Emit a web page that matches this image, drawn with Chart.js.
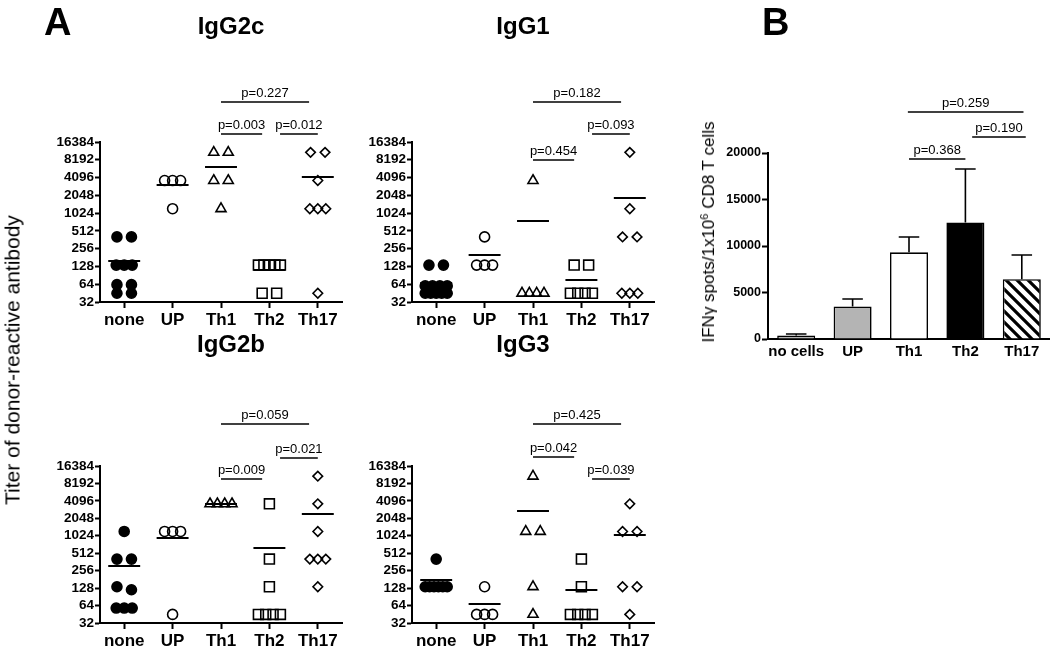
<!DOCTYPE html>
<html><head><meta charset="utf-8">
<script src="https://cdn.jsdelivr.net/npm/chart.js@4/dist/chart.umd.min.js"></script>
<style>
html,body{margin:0;padding:0;background:#fff;}
body{width:1050px;height:647px;position:relative;overflow:hidden;font-family:'Liberation Sans',Arial,sans-serif;color:#000;}
canvas.layer{position:absolute;left:0;top:0;}
.t{position:absolute;white-space:nowrap;line-height:1;}
.ttl{font-weight:bold;font-size:24px;transform:translateX(-50%);}
.let{font-weight:bold;font-size:38px;}
.yt{transform:translate(-50%,-50%) rotate(-90deg);}
</style></head><body>
<canvas id="c1" class="layer" width="1050" height="647"></canvas>
<canvas id="c2" class="layer" width="1050" height="647"></canvas>
<canvas id="c3" class="layer" width="1050" height="647"></canvas>
<canvas id="c4" class="layer" width="1050" height="647"></canvas>
<canvas id="c5" class="layer" width="1050" height="647"></canvas>
<div class="t let" style="left:44px;top:3px">A</div>
<div class="t let" style="left:762px;top:3px">B</div>
<div class="t ttl" style="left:231px;top:14px">IgG2c</div>
<div class="t ttl" style="left:523px;top:14px">IgG1</div>
<div class="t ttl" style="left:231px;top:332px">IgG2b</div>
<div class="t ttl" style="left:523px;top:332px">IgG3</div>
<div class="t yt" style="left:12px;top:360px;font-size:21px">Titer of donor-reactive antibody</div>
<div class="t yt" style="left:708px;top:232px;font-size:17px">IFNγ spots/1x10<sup style="font-size:11px;vertical-align:6px">6</sup> CD8 T cells</div>
<script>
// ---------- data ----------
const groups = ['none', 'UP', 'Th1', 'Th2', 'Th17'];
const titerTicks = [32, 64, 128, 256, 512, 1024, 2048, 4096, 8192, 16384];

const igg2c = [
  [405, 405, 135, 135, 135, 63, 63, 45, 45],
  [3645, 3645, 3645, 1215],
  [10935, 10935, 3645, 3645, 1215],
  [135, 135, 135, 135, 135, 45, 45],
  [10935, 10935, 3645, 1215, 1215, 1215, 45]
];
const igg1 = [
  [135, 135, 60, 60, 60, 60, 45, 45, 45, 45, 45],
  [405, 135, 135, 135],
  [3645, 45, 45, 45, 45],
  [135, 135, 45, 45, 45, 45],
  [10935, 1215, 405, 405, 45, 45, 45]
];
const igg2b = [
  [1215, 405, 405, 135, 120, 58, 58, 58],
  [1215, 1215, 1215, 45],
  [3645, 3645, 3645, 3645],
  [3645, 405, 135, 45, 45, 45, 45],
  [10935, 3645, 1215, 405, 405, 405, 135]
];
const igg3 = [
  [405, 135, 135, 135, 135, 135, 135],
  [135, 45, 45, 45],
  [10935, 1215, 1215, 135, 45],
  [405, 135, 45, 45, 45, 45],
  [3645, 1215, 1215, 135, 135, 45]
];
// p-values: [Th1 vs Th2, Th2 vs Th17, Th1 vs Th17]
const pIgG2c = ['p=0.003', 'p=0.012', 'p=0.227'];
const pIgG1 = ['p=0.454', 'p=0.093', 'p=0.182'];
const pIgG2b = ['p=0.009', 'p=0.021', 'p=0.059'];
const pIgG3 = ['p=0.042', 'p=0.039', 'p=0.425'];

const barCats = ['no cells', 'UP', 'Th1', 'Th2', 'Th17'];
const barMeans = [380, 3500, 9320, 12540, 6430];
const barErr = [110, 820, 1680, 5750, 2600];
const barTicks = [0, 5000, 10000, 15000, 20000];
// p-values: [Th1 vs Th2, Th2 vs Th17, Th1 vs Th17]
const pBar = ['p=0.368', 'p=0.190', 'p=0.259'];

// ---------- layout / style ----------
Chart.defaults.font.family = "'Liberation Sans', Arial, Helvetica, sans-serif";
Chart.defaults.color = '#000';
const FONT = "'Liberation Sans', Arial, Helvetica, sans-serif";
const CAT_PX = 48.4;
const markers = [
  {style: 'circle', r: 5, fill: '#000'},
  {style: 'circle', r: 5, fill: 'rgba(0,0,0,0)'},
  {style: 'triangle', r: 5.8, fill: 'rgba(0,0,0,0)'},
  {style: 'rect', r: 7, fill: 'rgba(0,0,0,0)'},
  {style: 'rectRot', r: 4.8, fill: 'rgba(0,0,0,0)'}
];
const bracketSpans = [[2, 2.85], [3.22, 4], [2, 3.82]];

function spread(vals, idx) {
  const sorted = vals.slice().sort((a, b) => b - a);
  const clusters = [];
  sorted.forEach(v => {
    const c = clusters[clusters.length - 1];
    if (c && Math.abs(Math.log2(c[0] / v)) < 0.3) c.push(v); else clusters.push([v]);
  });
  const pts = [];
  clusters.forEach(c => {
    const n = c.length;
    const s = n === 1 ? 0 : (n === 2 ? 14.5 : Math.min(8, 22 / (n - 1)));
    c.forEach((v, k) => pts.push({x: idx + (k - (n - 1) / 2) * s / CAT_PX, y: v}));
  });
  return pts;
}

function decoPlugin(series, brackets, showMeans) {
  return {
    id: 'deco',
    afterDatasetsDraw(chart) {
      const {ctx} = chart; const x = chart.scales.x, y = chart.scales.y;
      ctx.save();
      ctx.strokeStyle = '#000';
      if (showMeans) {
        ctx.lineWidth = 2;
        series.forEach((vals, i) => {
          const m = vals.reduce((a, b) => a + b, 0) / vals.length;
          const py = Math.round(y.getPixelForValue(m));
          ctx.beginPath();
          ctx.moveTo(x.getPixelForValue(i - 0.33), py);
          ctx.lineTo(x.getPixelForValue(i + 0.33), py);
          ctx.stroke();
        });
      }
      ctx.lineWidth = 1.3;
      ctx.fillStyle = '#000';
      ctx.font = '13px ' + FONT;
      ctx.textAlign = 'center';
      ctx.textBaseline = 'alphabetic';
      brackets.forEach(b => {
        const ly = chart.chartArea.top + b.dy;
        const x1 = x.getPixelForValue(b.from), x2 = x.getPixelForValue(b.to);
        ctx.beginPath(); ctx.moveTo(x1, ly); ctx.lineTo(x2, ly); ctx.stroke();
        ctx.fillText(b.text, (x1 + x2) / 2, ly - 5);
      });
      ctx.restore();
    }
  };
}

const panels = [
  {id: 'c1', data: igg2c, p: pIgG2c, box: {L: 100, R: 342, T: 142, B: 302}, dy: [-8, -8, -40]},
  {id: 'c2', data: igg1, p: pIgG1, box: {L: 412, R: 654, T: 142, B: 302}, dy: [18, -8, -40]},
  {id: 'c3', data: igg2b, p: pIgG2b, box: {L: 100, R: 342, T: 466, B: 623}, dy: [13, -8, -42]},
  {id: 'c4', data: igg3, p: pIgG3, box: {L: 412, R: 654, T: 466, B: 623}, dy: [-9, 13, -42]}
];

panels.forEach(pn => {
  const datasets = pn.data.map((vals, i) => ({
    data: spread(vals, i),
    pointStyle: markers[i].style,
    pointRadius: markers[i].r,
    pointBackgroundColor: markers[i].fill,
    pointBorderColor: '#000',
    pointBorderWidth: 1.6,
    showLine: false
  }));
  const brackets = pn.p.map((t, k) => ({from: bracketSpans[k][0], to: bracketSpans[k][1], text: t, dy: pn.dy[k]}));
  const YW = 50, XH = 30, b = pn.box;
  new Chart(document.getElementById(pn.id), {
    type: 'scatter',
    data: {datasets},
    options: {
      responsive: false, animation: false, events: [],
      layout: {padding: {left: b.L - YW, right: 1050 - b.R, top: b.T, bottom: 647 - b.B - XH}},
      plugins: {legend: {display: false}, tooltip: {enabled: false}},
      scales: {
        x: {
          type: 'linear', min: -0.5, max: 4.5,
          afterBuildTicks: s => { s.ticks = groups.map((g, i) => ({value: i})); },
          afterFit: s => { s.height = XH; },
          grid: {drawOnChartArea: false, drawTicks: true, tickLength: 6, tickWidth: 2, tickColor: '#000'},
          border: {display: true, color: '#000', width: 2},
          ticks: {autoSkip: false, maxRotation: 0, padding: 2, color: '#000',
                  font: {size: 17, weight: 'bold'}, callback: v => groups[Math.round(v)]}
        },
        y: {
          type: 'logarithmic', min: 32, max: 16384,
          afterBuildTicks: s => { s.ticks = titerTicks.map(v => ({value: v})); },
          afterFit: s => { s.width = YW; },
          grid: {drawOnChartArea: false, drawTicks: true, tickLength: 5, tickWidth: 2, tickColor: '#000'},
          border: {display: true, color: '#000', width: 2},
          ticks: {autoSkip: false, padding: 1, color: '#000',
                  font: {size: 13.5, weight: 'bold'}, callback: v => String(v)}
        }
      }
    },
    plugins: [decoPlugin(pn.data, brackets, true)]
  });
});

// ---------- bar chart ----------
function hatchPattern() {
  const c = document.createElement('canvas');
  const n = 11; c.width = n; c.height = n;
  const g = c.getContext('2d');
  g.fillStyle = '#fff'; g.fillRect(0, 0, n, n);
  g.strokeStyle = '#000'; g.lineWidth = 3.2;
  g.beginPath();
  for (let k = -1; k <= 1; k++) { g.moveTo(-2, -2 + k * n); g.lineTo(n + 2, n + 2 + k * n); }
  g.stroke();
  return g.createPattern(c, 'repeat');
}
const barBox = {L: 768, R: 1050, T: 153, B: 339};
const barBrackets = [
  {from: 2, to: 3, text: pBar[0], dy: 6},
  {from: 3.12, to: 4.07, text: pBar[1], dy: -16},
  {from: 1.98, to: 4.03, text: pBar[2], dy: -41}
];
const errPlugin = {
  id: 'err',
  afterDatasetsDraw(chart) {
    const {ctx} = chart; const y = chart.scales.y;
    const meta = chart.getDatasetMeta(0);
    ctx.save(); ctx.strokeStyle = '#000'; ctx.lineWidth = 1.6;
    meta.data.forEach((bar, i) => {
      const base = y.getPixelForValue(barMeans[i]);
      const top = Math.round(y.getPixelForValue(barMeans[i] + barErr[i]));
      const hw = bar.width * 0.27;
      ctx.beginPath();
      ctx.moveTo(bar.x, base); ctx.lineTo(bar.x, top);
      ctx.moveTo(bar.x - hw, top); ctx.lineTo(bar.x + hw, top);
      ctx.stroke();
    });
    ctx.restore();
  }
};
new Chart(document.getElementById('c5'), {
  type: 'bar',
  data: {labels: barCats, datasets: [{
    data: barMeans,
    backgroundColor: ['#b4b4b4', '#b4b4b4', '#ffffff', '#000000', hatchPattern()],
    borderColor: '#000', borderWidth: 1.6,
    barPercentage: 0.674, categoryPercentage: 1
  }]},
  options: {
    responsive: false, animation: false, events: [],
    layout: {padding: {left: barBox.L - 60, right: 1050 - barBox.R, top: barBox.T, bottom: 647 - barBox.B - 30}},
    plugins: {legend: {display: false}, tooltip: {enabled: false}},
    scales: {
      x: {
        afterFit: s => { s.height = 30; },
        grid: {drawOnChartArea: false, drawTicks: false},
        border: {display: true, color: '#000', width: 2},
        ticks: {padding: 4, color: '#000', autoSkip: false, maxRotation: 0, minRotation: 0,
                font: {size: 15, weight: 'bold'}}
      },
      y: {
        min: 0, max: 20000,
        afterBuildTicks: s => { s.ticks = barTicks.map(v => ({value: v})); },
        afterFit: s => { s.width = 60; },
        grid: {drawOnChartArea: false, drawTicks: true, tickLength: 6, tickWidth: 2, tickColor: '#000'},
        border: {display: true, color: '#000', width: 2},
        ticks: {padding: 1, color: '#000', font: {size: 12.5, weight: 'bold'}, callback: v => String(v)}
      }
    }
  },
  plugins: [errPlugin, decoPlugin([], barBrackets, false)]
});
</script>
</body></html>
